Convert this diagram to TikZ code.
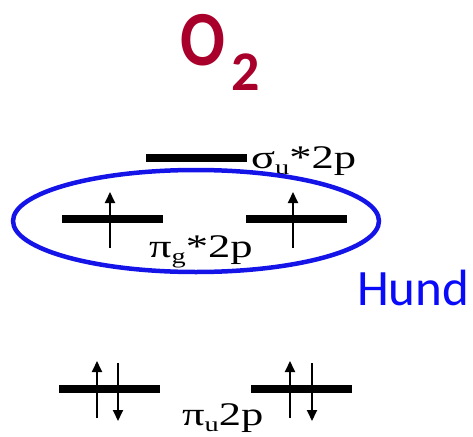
\documentclass[tikz,border=0pt]{standalone}
\usepackage{fontspec}
\setmainfont{Liberation Serif}
\newfontfamily\calfont{Carlito}
\usepackage{tikz}
\usetikzlibrary{arrows.meta,calc}
\definecolor{wine}{RGB}{168,0,42}
\definecolor{ringblue}{RGB}{20,20,232}
\definecolor{hundblue}{RGB}{10,10,250}
\newcommand{\wide}[1]{\scalebox{1.35}[1]{#1}}
\newcommand{\lo}[1]{\raisebox{-6pt}{\fontsize{21}{21}\selectfont #1}}
\tikzset{
  orbital/.style={draw=none,fill=black,minimum width=101pt,minimum height=8pt,inner sep=0pt},
  elec/.style={-{Triangle[length=11pt,width=10pt]},line width=1.8pt},
  lbl/.style={inner sep=0pt,anchor=base west,font=\fontsize{33}{34}\selectfont},
  ring/.style={draw=ringblue,line width=4.5pt}
}

\begin{document}
\begin{tikzpicture}[x=1pt,y=-1pt]
  \useasboundingbox (0,0) rectangle (473,436);
  \node[inner sep=0pt,anchor=base west,text=wine,font=\calfont\bfseries\fontsize{78}{78}\selectfont] (title) at (180,65)
    {\scalebox{0.85}[1]{O}\hspace{6pt}\raisebox{-25pt}{\fontsize{56}{56}\selectfont 2}};
  % sigma_u* 2p
  \node[orbital] (su) at (196,158) {};
  \node[lbl] (sulbl) at (251,168) {\wide{σ\lo{u}*2p}};
  % pi_g* 2p
  \node[orbital] (pgl) at (112,219) {};
  \node[orbital] (pgr) at (296,219) {};
  \node[lbl] (pglbl) at (149,257) {\wide{π\lo{g}*2p}};
  \draw[elec] ($(pgl)+(-2,29)$) -- ($(pgl)+(-2,-27)$);
  \draw[elec] ($(pgr)+(-3,29)$) -- ($(pgr)+(-3,-27)$);
  % pi_u 2p
  \node[orbital] (pul) at (109,389) {};
  \node[orbital] (pur) at (301,389) {};
  \node[lbl] (pulbl) at (182,425) {\wide{π\lo{u}2p}};
  \draw[elec] ($(pul)+(-12,29)$) -- ($(pul)+(-12,-28)$);
  \draw[elec] ($(pul)+(9,-26)$) -- ($(pul)+(9,32)$);
  \draw[elec] ($(pur)+(-11,29)$) -- ($(pur)+(-11,-28)$);
  \draw[elec] ($(pur)+(11,-26)$) -- ($(pur)+(11,32)$);
  % Hund
  \draw[ring] (196,221) ellipse [x radius=183, y radius=51];
  \node[inner sep=0pt,anchor=base west,text=hundblue,font=\calfont\fontsize{51}{51}\selectfont] (hund) at (357,305) {Hund};
\end{tikzpicture}
\end{document}
